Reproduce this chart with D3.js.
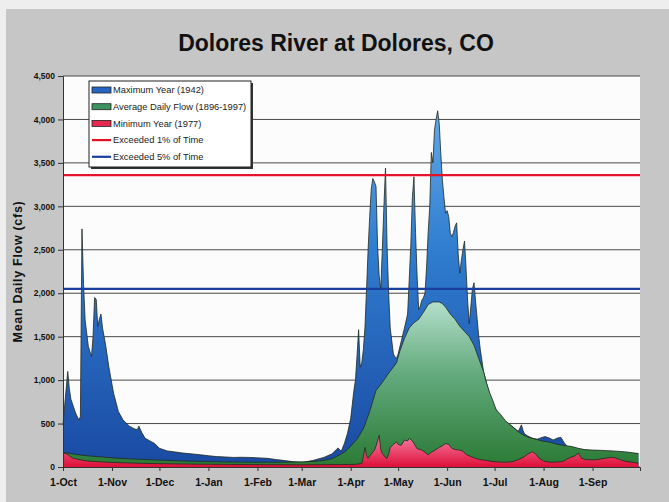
<!DOCTYPE html>
<html>
<head>
<meta charset="utf-8">
<script src="https://cdn.jsdelivr.net/npm/d3@7"></script>
<style>
  html, body { margin: 0; padding: 0; background: #eeeeee; }
  svg { display: block; font-family: "Liberation Sans", Arial, sans-serif; }
</style>
</head>
<body>
<div id="chart"></div>
<script>
// water year 1942: days counted from 1-Oct
var waterYearStart = new Date( 1941, 9, 1 );
var waterYearEnd = new Date( 1942, 9, 1 );

var yTicks = [ 0, 500, 1000, 1500, 2000, 2500, 3000, 3500, 4000, 4500 ];

var maxYearDay = [ 0, 1, 3, 4, 5, 8, 10, 11, 12, 13, 14, 16, 18, 19, 20, 21, 22, 23, 24, 25, 27, 29, 32, 35, 38, 42, 45, 47, 48, 50, 52, 55, 58, 61, 66, 70, 76, 82, 87, 92, 97, 103, 108, 113, 118, 124, 129, 135, 140, 146, 152, 158, 165, 170, 174, 176, 178, 180, 182, 184, 185, 186, 187, 188, 189, 190, 191, 192, 193, 194, 195, 196, 197, 198, 199, 200, 201, 202, 203, 204, 205, 206, 207, 208, 209, 210, 211, 212, 214, 216, 218, 220, 221, 222, 223, 224, 225, 226, 227, 228, 229, 230, 231, 232, 233, 234, 235, 236, 237, 238, 239, 240, 241, 242, 243, 244, 245, 246, 247, 248, 249, 250, 251, 252, 253, 254, 255, 256, 257, 258, 259, 260, 261, 262, 263, 264, 266, 268, 270, 273, 276, 280, 284, 288, 290, 291, 292, 294, 297, 300, 303, 305, 308, 310, 313, 315, 317, 319, 322, 326, 330, 335, 340, 345, 350, 355, 360, 364 ];
var maxYearCfs = [ 480, 700, 1100, 900, 780, 620, 540, 580, 2740, 2100, 1690, 1390, 1270, 1500, 1950, 1930, 1620, 1700, 1760, 1600, 1400, 1150, 850, 640, 540, 470, 440, 430, 470, 390, 330, 300, 270, 215, 185, 175, 160, 150, 140, 130, 120, 115, 110, 112, 110, 105, 100, 85, 75, 60, 55, 75, 110, 150, 220, 180, 270, 390, 560, 880, 1000, 1280, 1580, 1150, 1200, 1350, 1600, 2040, 2500, 2880, 3200, 3320, 3280, 3230, 2540, 2200, 2040, 2500, 3000, 3440, 2540, 2000, 1600, 1450, 1300, 1270, 1250, 1300, 1450, 1600, 1760, 2540, 3100, 3340, 2700, 2200, 1810, 1850, 1920, 1950, 2000, 2300, 2700, 3000, 3620, 3500, 3880, 4000, 4100, 3950, 3600, 3300, 3100, 2920, 2950, 2880, 2690, 2650, 2700, 2770, 2810, 2450, 2230, 2380, 2500, 2600, 2270, 1900, 1650, 1850, 2050, 2120, 1900, 1700, 1500, 1350, 1100, 960, 830, 690, 600, 520, 470, 410, 485, 420, 380, 357, 330, 320, 340, 350, 330, 310, 335, 340, 280, 235, 220, 205, 195, 185, 180, 175, 170, 165, 155, 150 ];

var avgDay = [ 0, 3, 8, 15, 25, 35, 45, 60, 75, 90, 105, 120, 135, 150, 160, 166, 170, 174, 177, 179, 182, 184, 186, 188, 190, 192, 194, 196, 198, 200, 203, 206, 209, 211, 213, 216, 219, 222, 225, 228, 231, 234, 238, 240, 242, 245, 248, 251, 254, 257, 260, 263, 266, 268, 270, 272, 274, 277, 280, 284, 287, 291, 295, 299, 303, 308, 313, 318, 322, 326, 330, 335, 340, 345, 350, 355, 360, 364 ];
var avgCfs = [ 165, 160, 145, 130, 115, 100, 92, 80, 70, 62, 58, 55, 55, 58, 65, 80, 95, 130, 160, 185, 240, 280, 320, 380, 440, 540, 640, 760, 880, 925, 1000, 1080, 1150, 1200, 1330, 1480, 1600, 1660, 1700, 1780, 1870, 1900, 1900, 1880, 1840, 1760, 1700, 1620, 1560, 1500, 1400, 1250, 1100, 960, 850, 760, 660, 600, 530, 470, 420, 370, 340, 320, 300, 285, 260, 245, 235, 215, 200, 195, 192, 188, 182, 175, 165, 155 ];

var minYearDay = [ 0, 2, 4, 6, 9, 15, 25, 35, 50, 70, 90, 120, 150, 175, 185, 189, 190, 191, 192, 193, 195, 197, 198, 199, 200, 201, 202, 204, 205, 206, 207, 209, 211, 212, 214, 216, 218, 219, 221, 222, 224, 227, 229, 231, 233, 235, 238, 240, 242, 244, 246, 248, 251, 253, 255, 258, 261, 264, 268, 272, 276, 280, 284, 288, 291, 294, 297, 299, 301, 304, 308, 312, 316, 319, 321, 324, 326, 328, 331, 336, 341, 346, 349, 352, 356, 360, 364 ];
var minYearCfs = [ 160, 155, 130, 105, 90, 70, 58, 50, 42, 36, 32, 28, 25, 28, 30, 40, 120, 225, 130, 100, 150, 195, 240, 300, 365, 200, 155, 110, 100, 150, 225, 260, 290, 260, 250, 310, 300, 330, 300, 270, 210, 195, 170, 140, 170, 190, 225, 245, 270, 260, 215, 200, 195, 180, 145, 120, 100, 85, 75, 62, 58, 55, 60, 85, 110, 150, 175, 150, 105, 70, 55, 58, 62, 95, 110, 130, 160, 100, 85, 82, 95, 110, 108, 85, 65, 55, 45 ];

var exceeded1 = 3360;
var exceeded5 = 2050;

var legendLabels = [ "Maximum Year (1942)", "Average Daily Flow (1896-1997)", "Minimum Year (1977)", "Exceeded 1% of Time", "Exceeded 5% of Time" ];

var width = 669, height = 502;
var plot = { left: 63, right: 640, top: 76, bottom: 467 };

var svg = d3.select( "#chart" ).append( "svg" )
  .attr( "width", width ).attr( "height", height );

// gradients for the three areas (fixed to the plot so colour follows flow)
var defs = svg.append( "defs" );
function gradient( id, stops, y1, y2 ) {
  var g = defs.append( "linearGradient" ).attr( "id", id )
    .attr( "gradientUnits", "userSpaceOnUse" )
    .attr( "x1", 0 ).attr( "x2", 0 ).attr( "y1", y1 ).attr( "y2", y2 );
  stops.forEach( function( s ) {
    g.append( "stop" ).attr( "offset", s[ 0 ] ).attr( "stop-color", s[ 1 ] );
  } );
}
gradient( "gMax", [ [ 0, "#6fb4ee" ], [ 0.45, "#2f7ccf" ], [ 1, "#1a4aa2" ] ], plot.top, plot.bottom );
gradient( "gAvg", [ [ 0, "#b6e0cc" ], [ 0.45, "#62a97c" ], [ 1, "#2a7a34" ] ], 300, plot.bottom );
gradient( "gMin", [ [ 0, "#f6a8c2" ], [ 0.5, "#ee5a82" ], [ 1, "#dd1038" ] ], 425, plot.bottom );

// panel
svg.append( "rect" ).attr( "x", 6 ).attr( "y", 9 ).attr( "width", width - 6 ).attr( "height", height - 9 )
  .attr( "fill", "#c6c6c6" );
svg.append( "rect" ).attr( "x", plot.left ).attr( "y", plot.top )
  .attr( "width", plot.right - plot.left ).attr( "height", plot.bottom - plot.top )
  .attr( "fill", "#fcfcfc" );

svg.append( "text" ).attr( "x", 336 ).attr( "y", 51 ).attr( "text-anchor", "middle" )
  .attr( "font-size", 23 ).attr( "font-weight", "bold" ).attr( "fill", "#111" )
  .text( "Dolores River at Dolores, CO" );

var x = d3.scaleTime().domain( [ waterYearStart, waterYearEnd ] ).range( [ plot.left, plot.right ] );
var y = d3.scaleLinear().domain( [ 0, 4500 ] ).range( [ plot.bottom, plot.top ] );

// grid
svg.append( "g" ).selectAll( "line" ).data( yTicks ).join( "line" )
  .attr( "x1", plot.left ).attr( "x2", plot.right )
  .attr( "y1", function( d ) { return y( d ); } ).attr( "y2", function( d ) { return y( d ); } )
  .attr( "stroke", "#4a4a4a" ).attr( "stroke-width", 1 );

function series( days, values ) {
  return days.map( function( d, i ) {
    return { date: d3.timeDay.offset( waterYearStart, d ), v: values[ i ] };
  } );
}

var area = d3.area()
  .x( function( d ) { return x( d.date ); } )
  .y0( y( 0 ) )
  .y1( function( d ) { return y( d.v ); } );
var line = d3.line()
  .x( function( d ) { return x( d.date ); } )
  .y( function( d ) { return y( d.v ); } );

[ [ series( maxYearDay, maxYearCfs ), "url(#gMax)" ],
  [ series( avgDay, avgCfs ), "url(#gAvg)" ],
  [ series( minYearDay, minYearCfs ), "url(#gMin)" ] ].forEach( function( s ) {
  svg.append( "path" ).attr( "d", area( s[ 0 ] ) ).attr( "fill", s[ 1 ] );
  svg.append( "path" ).attr( "d", line( s[ 0 ] ) ).attr( "fill", "none" )
    .attr( "stroke", "#1e2a22" ).attr( "stroke-width", 0.8 );
} );

// exceedance lines
svg.append( "line" ).attr( "x1", plot.left ).attr( "x2", plot.right )
  .attr( "y1", y( exceeded1 ) ).attr( "y2", y( exceeded1 ) )
  .attr( "stroke", "#e3132d" ).attr( "stroke-width", 2.2 );
svg.append( "line" ).attr( "x1", plot.left ).attr( "x2", plot.right )
  .attr( "y1", y( exceeded5 ) ).attr( "y2", y( exceeded5 ) )
  .attr( "stroke", "#1a3e9e" ).attr( "stroke-width", 2.2 );

// axes
var yAxis = svg.append( "g" ).attr( "transform", "translate(" + plot.left + ",0)" )
  .call( d3.axisLeft( y ).tickValues( yTicks ).tickFormat( d3.format( "," ) ).tickSize( 5 ).tickPadding( 3 ) );
yAxis.selectAll( "text" ).attr( "font-size", 8.5 ).attr( "font-weight", "bold" ).attr( "fill", "#111" )
  .attr( "font-family", "Liberation Sans, Arial, sans-serif" );
yAxis.selectAll( "line, path" ).attr( "stroke", "#333" );

var xAxis = svg.append( "g" ).attr( "transform", "translate(0," + plot.bottom + ")" )
  .call( d3.axisBottom( x ).ticks( d3.timeMonth.every( 1 ) ).tickFormat( d3.timeFormat( "%-d-%b" ) )
    .tickSize( 4 ).tickPadding( 8 ) );
xAxis.selectAll( ".tick" ).filter( function( d ) { return +d === +waterYearEnd; } ).remove();
xAxis.selectAll( "text" ).attr( "font-size", 10.5 ).attr( "font-weight", "bold" ).attr( "fill", "#111" )
  .attr( "font-family", "Liberation Sans, Arial, sans-serif" );
xAxis.selectAll( "line, path" ).attr( "stroke", "#333" );

svg.append( "text" )
  .attr( "transform", "translate(22," + ( ( plot.top + plot.bottom ) / 2 ) + ") rotate(-90)" )
  .attr( "text-anchor", "middle" ).attr( "font-size", 12.5 ).attr( "font-weight", "bold" )
  .attr( "letter-spacing", 0.7 ).attr( "fill", "#111" )
  .text( "Mean Daily Flow (cfs)" );

// legend
var lg = svg.append( "g" ).attr( "transform", "translate(89,81)" );
lg.append( "rect" ).attr( "x", 2 ).attr( "y", 2 ).attr( "width", 162 ).attr( "height", 86 ).attr( "fill", "#333" );
lg.append( "rect" ).attr( "width", 162 ).attr( "height", 86 ).attr( "fill", "#fff" )
  .attr( "stroke", "#222" ).attr( "stroke-width", 1 );
var swatches = [ "#2566c2", "#3e9460", "#e4284f" ];
legendLabels.forEach( function( label, i ) {
  var cy = 9 + i * 16.7;
  if( i < 3 ) {
    lg.append( "rect" ).attr( "x", 3 ).attr( "y", cy - 3 ).attr( "width", 19 ).attr( "height", 6 )
      .attr( "fill", swatches[ i ] ).attr( "stroke", "#222" ).attr( "stroke-width", 0.8 );
  } else {
    lg.append( "line" ).attr( "x1", 3 ).attr( "x2", 22 ).attr( "y1", cy ).attr( "y2", cy )
      .attr( "stroke", i === 3 ? "#e3132d" : "#1a3e9e" ).attr( "stroke-width", 2.2 );
  }
  lg.append( "text" ).attr( "x", 24 ).attr( "y", cy + 3.3 ).attr( "font-size", 9.3 ).attr( "fill", "#222" )
    .text( label );
} );
</script>
</body>
</html>
